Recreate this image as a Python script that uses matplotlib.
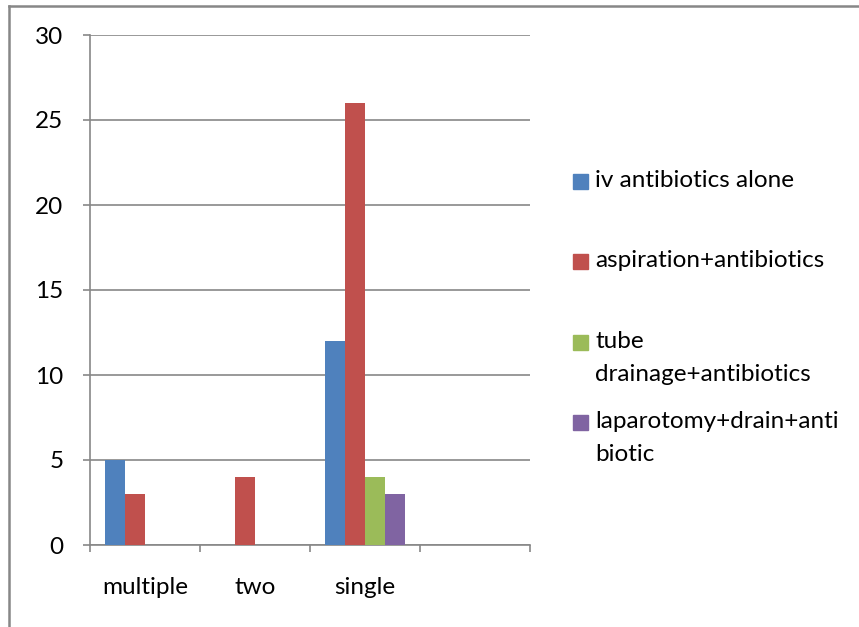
import matplotlib.pyplot as plt
import numpy as np
from matplotlib.lines import Line2D
from matplotlib.patches import Rectangle

categories = ["multiple", "two", "single", ""]
iv_alone = [5, 0, 12, 0]
aspiration = [3, 4, 26, 0]
tube_drainage = [0, 0, 4, 0]
laparotomy = [0, 0, 3, 0]

series = [iv_alone, aspiration, tube_drainage, laparotomy]
names = ["iv antibiotics alone",
         "aspiration+antibiotics",
         "tube\ndrainage+antibiotics",
         "laparotomy+drain+anti\nbiotic"]
colors = ["#4F81BD", "#C0504D", "#9BBB59", "#8064A2"]
yticks = [0, 5, 10, 15, 20, 25, 30]

plt.rcParams['font.family'] = ['Lato', 'DejaVu Sans']
W, H = 859, 627
fs = 17.5
fig = plt.figure(figsize=(W / 100, H / 100), dpi=100)
ax = fig.add_axes([90 / W, 1 - 545 / H, 440 / W, 510 / H])

grey = "#878787"
x = np.arange(len(categories))
width = 20 / 110
for i, vals in enumerate(series):
    ax.bar(x + (i - 1.5) * width, vals, width, color=colors[i], linewidth=0, zorder=3)

ax.set_xlim(-0.5, len(categories) - 0.5)
ax.set_ylim(0, 30)
ax.set_yticks(yticks)
ax.set_xticks(x)
ax.set_xticklabels(categories)
ax.set_xticks(np.arange(len(categories) + 1) - 0.5, minor=True)

ax.grid(axis="y", color=grey, linewidth=1.2, zorder=0)
for side in ["top", "right"]:
    ax.spines[side].set_visible(False)
for side in ["left", "bottom"]:
    ax.spines[side].set_color(grey)
    ax.spines[side].set_linewidth(1.2)

ax.tick_params(axis="y", length=5, width=1.2, color=grey, pad=14, labelsize=fs)
ax.tick_params(axis="x", which="major", length=0, pad=23, labelsize=fs)
ax.tick_params(axis="x", which="minor", length=5, width=1.2, color=grey)

# legend drawn by hand so the swatch sits beside the first line of text
legend_y = [181, 261, 342, 422]
for name, c, yy in zip(names, colors, legend_y):
    fig.add_artist(Rectangle((573 / W, 1 - (yy + 8) / H), 15 / W, 15 / H,
                             transform=fig.transFigure, color=c))
    fig.text(595 / W, 1 - (yy - 11) / H, name, fontsize=fs, va="top", ha="left",
             linespacing=1.68)

# outer chart frame
fig.add_artist(Line2D([9 / W, 9 / W], [0, 1 - 6 / H], color=grey, linewidth=1.8,
                      transform=fig.transFigure))
fig.add_artist(Line2D([9 / W, 1], [1 - 6 / H, 1 - 6 / H], color=grey, linewidth=1.8,
                      transform=fig.transFigure))

fig.savefig("out.png", dpi=100)
